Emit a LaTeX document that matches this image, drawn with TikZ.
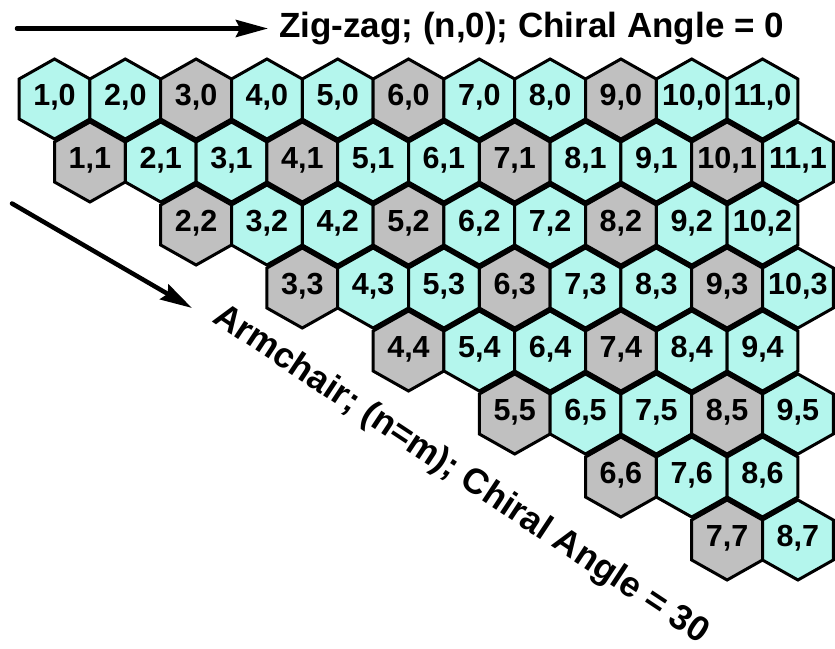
\documentclass[tikz,border=0pt]{standalone}
\usepackage{fontspec}
\setmainfont{Liberation Sans}
\usetikzlibrary{arrows.meta}
\definecolor{hexcyan}{RGB}{180,246,237}
\definecolor{hexgray}{RGB}{192,192,192}
\begin{document}
\begin{tikzpicture}[x=1pt,y=-1pt,
  hexcell/.style={draw=black, line width=3pt, line join=miter},
  lbl/.style={font=\fontsize{30.5}{31}\selectfont\bfseries, inner sep=0pt},
  title/.style={font=\fontsize{35}{36}\selectfont\bfseries, inner sep=0pt},
  bigarrow/.style={line width=4.5pt, line cap=round, -{Stealth[length=32pt,width=17pt,inset=4pt]}}]
\useasboundingbox (0,0) rectangle (835,648);
\fill[white] (0,0) rectangle (835,648);
\foreach \m in {0,...,7}{
  \pgfmathtruncatemacro{\nmin}{max(\m,1)}
  \pgfmathtruncatemacro{\nmax}{11-floor(\m/2)}
  \foreach \n in {\nmin,...,\nmax}{
    \pgfmathsetmacro{\cx}{54.5+(\n-1)*70.8+\m*35.4}
    \pgfmathsetmacro{\cy}{99+\m*63}
    \pgfmathtruncatemacro{\rem}{mod(\n-\m,3)}
    \ifnum\rem=0 \def\fc{hexgray}\else\def\fc{hexcyan}\fi
    \filldraw[hexcell, fill=\fc] (\cx,\cy) ++(0,-40) -- ++(35.4,20) -- ++(0,40) -- ++(-35.4,20) -- ++(-35.4,-20) -- ++(0,-40) -- cycle;
    \node[lbl] (h\n-\m) at (\cx,\cy-1.5) {\n,\m};
  }
}
\coordinate (za) at (17,28.5);
\coordinate (zb) at (268,28.5);
\draw[bigarrow] (za) -- (zb);
\node[title, anchor=base west] (zz) at (279,37) {Zig-zag; (n,0); Chiral Angle = 0};
\coordinate (aa) at (12,203.5);
\coordinate (ab) at (192,308);
\draw[bigarrow] (aa) -- (ab);
\node[font=\fontsize{35.5}{36}\selectfont\bfseries, inner sep=0pt, rotate=-33.5, anchor=base west] (ac) at (211,321) {Armchair; (n=m); Chiral Angle = 30};
\end{tikzpicture}
\end{document}
